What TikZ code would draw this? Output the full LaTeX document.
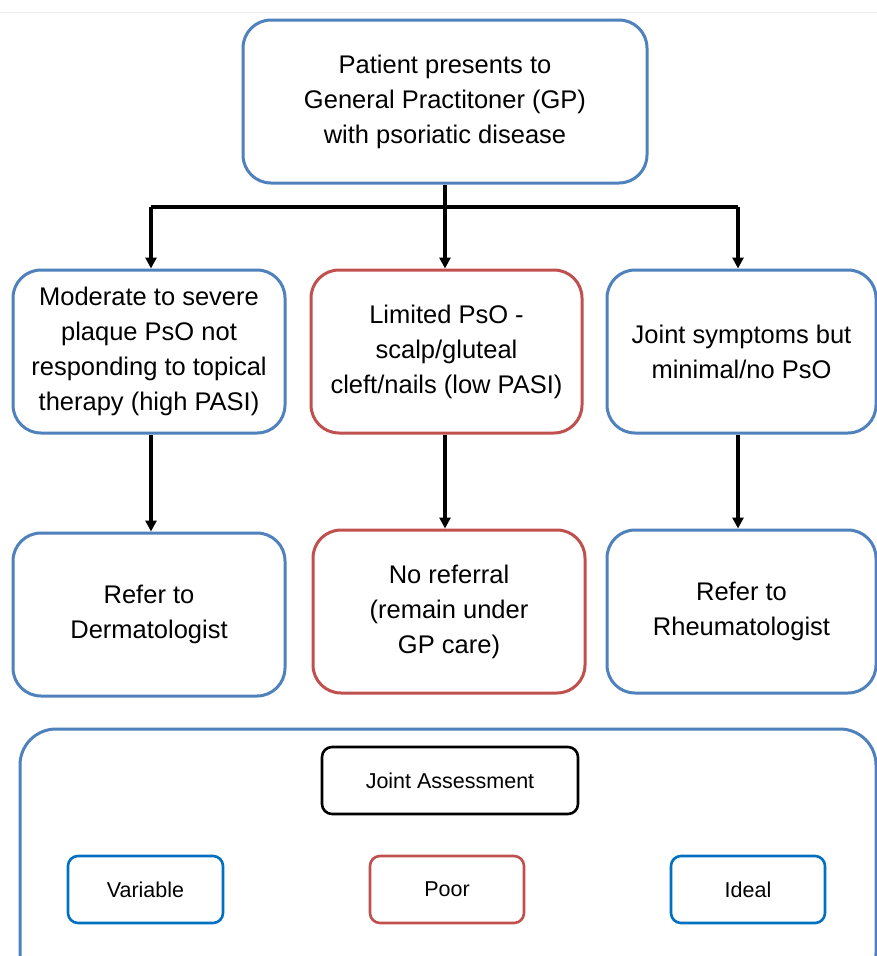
\documentclass[tikz,border=0pt]{standalone}
\usepackage{fontspec}
\setmainfont{Liberation Sans}
\usetikzlibrary{arrows.meta}
\definecolor{boxblue}{RGB}{79,129,189}
\definecolor{boxred}{RGB}{192,80,77}
\definecolor{legblue}{RGB}{0,112,192}
\tikzset{
  flowbox/.style={draw, line width=3pt, rounded corners=28pt, align=center,
    inner sep=0pt, fill=white, font=\fontsize{25.5}{35}\selectfont},
  bluebox/.style={flowbox, draw=boxblue},
  redbox/.style={flowbox, draw=boxred},
  legbox/.style={draw, line width=2.6pt, rounded corners=10pt, align=center,
    inner sep=0pt, minimum height=67pt, font=\fontsize{21.5}{26}\selectfont},
  flowarrow/.style={line width=3.5pt, -{Triangle[length=11pt,width=11pt]}},
  flowline/.style={line width=3.6pt},
}
\begin{document}
\begin{tikzpicture}[x=1pt,y=-1pt]
\useasboundingbox (0,0) rectangle (877,956);
\clip (0,0) rectangle (877,956);
\fill[white] (0,0) rectangle (877,956);
\draw[black!7, line width=1pt] (0,12) -- (877,12);

% top
\node[bluebox, minimum width=404pt, minimum height=163pt] (top) at (445,101.5)
  {Patient presents to\\General Practitoner (GP)\\with psoriatic disease};

% row 1
\node[bluebox, minimum width=272pt, minimum height=163pt] (L1) at (149,351.5)
  {Moderate to severe\\plaque PsO not\\responding to topical\\therapy (high PASI)};
\node[redbox, minimum width=271pt, minimum height=163pt] (M1) at (446.5,351.5)
  {Limited PsO -\\scalp/gluteal\\cleft/nails (low PASI)};
\node[bluebox, minimum width=269pt, minimum height=163pt] (R1) at (741.5,351.5)
  {Joint symptoms but\\minimal/no PsO};

% row 2
\node[bluebox, minimum width=272pt, minimum height=163pt] (L2) at (149,614.5)
  {Refer to\\Dermatologist};
\node[redbox, minimum width=272pt, minimum height=163pt] (M2) at (449,611.5)
  {No referral\\(remain under\\GP care)};
\node[bluebox, minimum width=269pt, minimum height=163pt] (R2) at (741.5,611.5)
  {Refer to\\Rheumatologist};

% connectors
\coordinate (j) at (445,207);
\coordinate (jl) at (151,207);
\coordinate (jr) at (738,207);
\draw[flowline] (top.south) -- (j);
\draw[flowline] (jl) -- (jr);
\draw[flowarrow] (jl) -- (jl |- L1.north);
\draw[flowarrow] (j) -- (j |- M1.north);
\draw[flowarrow] (jr) -- (jr |- R1.north);
\draw[flowarrow] (jl |- L1.south) -- (jl |- L2.north);
\draw[flowarrow] (j |- M1.south) -- (j |- M2.north);
\draw[flowarrow] (jr |- R1.south) -- (jr |- R2.north);

% legend
\node[draw=boxblue, line width=3pt, rounded corners=36pt, minimum width=856pt,
  minimum height=260pt, inner sep=0pt] (legend) at (448,859) {};
\node[legbox, draw=black, minimum width=256pt] (ja) at (450,780.5) {Joint Assessment};
\node[legbox, draw=legblue, minimum width=155pt] (var) at (145.5,889.5) {Variable};
\node[legbox, draw=boxred, minimum width=154pt] (poor) at (447,889.5) {Poor};
\node[legbox, draw=legblue, minimum width=154pt] (ideal) at (748,889.5) {Ideal};
\end{tikzpicture}
\end{document}
